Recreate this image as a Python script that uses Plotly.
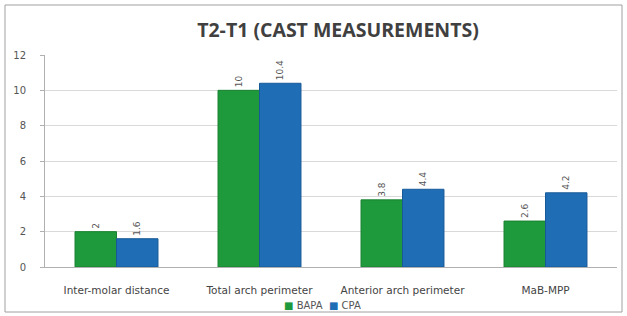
import plotly.graph_objects as go

categories = ["Inter-molar distance", "Total arch perimeter", "Anterior arch perimeter", "MaB-MPP"]
bapa = [2, 10, 3.8, 2.6]
cpa = [1.6, 10.4, 4.4, 4.2]
bapa_labels = ["2", "10", "3.8", "2.6"]
cpa_labels = ["1.6", "10.4", "4.4", "4.2"]
series_names = ["BAPA", "CPA"]
colors = ["#1e9a3c", "#1f6db5"]
edge_colors = ["#17812f", "#185a98"]

W, H = 627, 316
L, R, T, B = 45, 10, 55, 49
PW = W - L - R
PH = H - T - B

fig = go.Figure()
for name, vals, labs, c, ec in zip(series_names, [bapa, cpa], [bapa_labels, cpa_labels], colors, edge_colors):
    fig.add_trace(go.Bar(name=name, x=categories, y=vals, text=labs,
                         textposition="outside", textangle=-90, cliponaxis=False,
                         textfont=dict(family="DejaVu Sans", size=9, color="#555555"),
                         marker=dict(color=c, line=dict(color=ec, width=1))))

fig.update_layout(
    width=W, height=H,
    margin=dict(l=L, r=R, t=T, b=B),
    paper_bgcolor="white", plot_bgcolor="white",
    barmode="group", bargap=0.42, bargroupgap=0,
    title=dict(text="<b>T2-T1 (CAST MEASUREMENTS)</b>", x=(338 - L) / PW, xanchor="center",
               xref="paper", yref="container", y=1 - 30 / H, yanchor="middle",
               font=dict(family="Open Sans", size=19.5, color="#404040")),
    font=dict(family="DejaVu Sans", size=9, color="#555555"),
    showlegend=False,
    uniformtext=dict(minsize=8, mode="show"),
)
fig.update_yaxes(range=[0, 12], dtick=2, showgrid=True, gridcolor="#d9d9d9",
                 showline=True, linecolor="#b0b0b0", ticks="outside", ticklen=4,
                 tickcolor="#b0b0b0", zeroline=False, automargin=False,
                 ticklabelstandoff=12, tickfont=dict(size=10, color="#555555"))
fig.update_xaxes(showline=True, linecolor="#b0b0b0", ticks="", automargin=False,
                 ticklabelstandoff=13, tickfont=dict(size=10.5, color="#444444"))

# legend drawn as text line at bottom
legend_text = "  ".join(
    f"<span style='color:{c}'>■</span> {n}" for n, c in zip(series_names, colors))
fig.add_annotation(text=legend_text, xref="paper", yref="paper", x=(322 - L) / PW, y=-38 / PH,
                   xanchor="center", yanchor="middle", showarrow=False,
                   font=dict(family="DejaVu Sans", size=10, color="#555555"))

# outer border of chart area
fig.add_shape(type="rect", xref="paper", yref="paper",
              x0=(5 - L) / PW, x1=(622 - L) / PW,
              y0=-(B - 4) / PH, y1=1 + (T - 5) / PH,
              line=dict(color="#a0a0a0", width=1), layer="below")

fig.write_html("out.html", config={"displayModeBar": False},
               post_script="document.body.style.margin='0';")
